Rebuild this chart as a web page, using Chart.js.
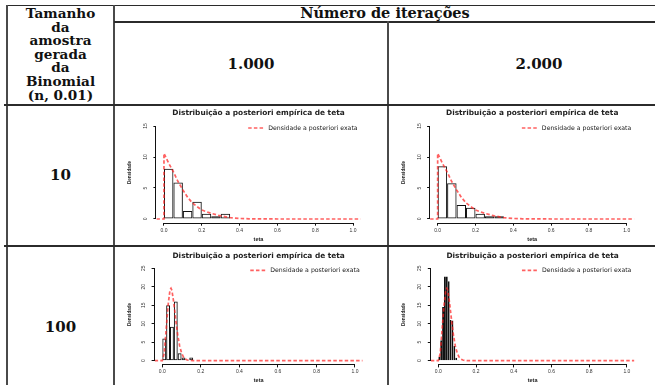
<!DOCTYPE html>
<html><head><meta charset="utf-8">
<script src="https://cdn.jsdelivr.net/npm/chart.js@4/dist/chart.umd.min.js"></script>
<style>
html,body{margin:0;padding:0;width:655px;height:385px;overflow:hidden;background:#fff;}
.l{position:absolute;background:#2b2b2b;}
.v{position:absolute;background:#4a4a4a;}
.t{position:absolute;font-family:"DejaVu Serif",serif;font-weight:bold;font-size:14.5px;color:#111;text-align:center;white-space:nowrap;}
.c{position:absolute;}
</style></head><body>
<!-- table rules -->
<div class="l" style="left:6px;top:5px;width:649px;height:1px"></div>
<div class="v" style="left:6px;top:5px;width:2px;height:380px"></div>
<div class="v" style="left:113px;top:5px;width:2px;height:380px"></div>
<div class="l" style="left:114px;top:21px;width:541px;height:1.5px"></div>
<div class="v" style="left:387px;top:21px;width:2px;height:364px"></div>
<div class="l" style="left:4px;top:104px;width:651px;height:1.5px"></div>
<div class="l" style="left:4px;top:245px;width:651px;height:1.5px"></div>
<!-- table texts -->
<div class="t" style="left:8px;width:105px;top:7px;line-height:13.6px;font-size:13.6px">Tamanho<br>da<br>amostra<br>gerada<br>da<br>Binomial<br>(n, 0.01)</div>
<div class="t" style="left:115px;width:540px;top:5px;line-height:16px">Número de iterações</div>
<div class="t" style="left:115px;width:272px;top:56px;line-height:16px;font-size:15px">1.000</div>
<div class="t" style="left:389px;width:300px;top:56px;line-height:16px;font-size:15px">2.000</div>
<div class="t" style="left:8px;width:105px;top:167px;line-height:16px;font-size:15px">10</div>
<div class="t" style="left:8px;width:105px;top:319px;line-height:16px;font-size:15px">100</div>

<canvas id="c1" class="c" width="270" height="138" style="left:116px;top:106px"></canvas>
<canvas id="c2" class="c" width="270" height="138" style="left:390px;top:106px"></canvas>
<canvas id="c3" class="c" width="270" height="138" style="left:116px;top:247px"></canvas>
<canvas id="c4" class="c" width="270" height="138" style="left:390px;top:247px"></canvas>
<script>
// ---------- data ----------
const chartTitle = 'Distribuição a posteriori empírica de teta';
const legendLabel = 'Densidade a posteriori exata';
const xLabel = 'teta';
const yLabel = 'Densidade';
const xTicks = [0, 0.2, 0.4, 0.6, 0.8, 1.0];
const yTicksTop = [0, 5, 10, 15];
const yTicksBottom = [0, 5, 10, 15, 20, 25];

// histograms (bin mid-points and densities)
const mids10 = [0.025, 0.075, 0.125, 0.175, 0.225, 0.275, 0.325];
const hist10_1000 = [8.1, 5.9, 1.3, 2.8, 0.86, 0.43, 0.86];
const hist10_2000 = [8.5, 5.75, 2.26, 1.83, 0.86, 0.45, 0.43];
const mids100_1000 = [0.01, 0.03, 0.05, 0.07, 0.09, 0.11, 0.13, 0.15];
const hist100_1000 = [6.0, 15.0, 9.2, 16.0, 2.0, 0.9, 0.2, 0.9];
const mids100_2000 = [0.005, 0.015, 0.025, 0.035, 0.045, 0.055, 0.065, 0.075, 0.085, 0.095, 0.105];
const hist100_2000 = [1.0, 5.5, 14.5, 22.8, 22.8, 21.5, 11.0, 10.9, 4.0, 0.8, 0.2];

// exact posterior density curves
const theta10 = [-0.04, 0, 0, 0.025, 0.05, 0.075, 0.1, 0.125, 0.15, 0.175, 0.2, 0.25, 0.3, 0.35, 0.4, 0.45, 0.5, 0.6, 1.04];
const dens10  = [0, 0, 10.6, 9.0, 7.6, 6.0, 4.7, 3.5, 2.6, 2.0, 1.45, 0.9, 0.5, 0.22, 0.08, 0.03, 0.01, 0, 0];
const theta100 = [-0.04, 0, 0.01, 0.02, 0.03, 0.04, 0.045, 0.05, 0.06, 0.07, 0.08, 0.09, 0.1, 0.11, 0.12, 0.13, 0.14, 0.16, 0.2, 1.04];
const dens100  = [0, 0, 2.0, 8.5, 15.0, 19.2, 19.6, 19.0, 15.5, 11.0, 7.0, 4.0, 2.1, 1.0, 0.45, 0.2, 0.08, 0.01, 0, 0];

// ---------- plugins ----------
const rAxes = {
  id: 'rAxes',
  afterDraw(chart) {
    const {ctx, scales: {x, y}, chartArea} = chart;
    const xt = x.ticks, yt = y.ticks;
    ctx.save();
    ctx.strokeStyle = '#111';
    ctx.lineWidth = 1;
    ctx.beginPath();
    const by = Math.round(chartArea.bottom) + 0.5;
    ctx.moveTo(x.getPixelForValue(xt[0].value), by);
    ctx.lineTo(x.getPixelForValue(xt[xt.length - 1].value), by);
    const lx = Math.round(chartArea.left) - 0.5;
    ctx.moveTo(lx, y.getPixelForValue(yt[0].value));
    ctx.lineTo(lx, y.getPixelForValue(yt[yt.length - 1].value));
    ctx.stroke();
    ctx.restore();
  }
};
const rLegend = {
  id: 'rLegend',
  afterDatasetsDraw(chart, args, opts) {
    const ds = chart.data.datasets.find(d => d.type === 'line');
    const {ctx, chartArea} = chart;
    ctx.save();
    ctx.font = opts.font;
    const tw = ctx.measureText(ds.label).width;
    const xr = chartArea.right - opts.inset;
    const yc = chartArea.top + opts.dy;
    ctx.fillStyle = '#222';
    ctx.textBaseline = 'middle';
    ctx.textAlign = 'left';
    ctx.fillText(ds.label, xr - tw, yc);
    ctx.strokeStyle = ds.borderColor;
    ctx.lineWidth = ds.borderWidth;
    ctx.setLineDash(ds.borderDash);
    ctx.beginPath();
    ctx.moveTo(xr - tw - opts.gap - opts.len, yc);
    ctx.lineTo(xr - tw - opts.gap, yc);
    ctx.stroke();
    ctx.restore();
  }
};

// ---------- factory ----------
function makeChart(id, mids, hist, theta, dens, yMax, yTicks, d) {
  const el = document.getElementById(id);
  const W = el.width, H = el.height;
  const titleSize = 7.4, titleLH = titleSize * 1.2;
  const yW = d.axL - d.left;
  const padR = d.left + W - d.axR;
  const xH = d.top + H - d.axB;
  const tTop = d.tTop;
  const tBot = (d.axT - d.top) - tTop - titleLH;
  return new Chart(el, {
    data: {
      datasets: [
        {
          type: 'line', label: legendLabel, order: 0,
          data: theta.map((t, i) => ({x: t, y: dens[i]})),
          borderColor: 'rgba(255,30,30,0.7)', borderWidth: 1.7, borderDash: [3.5, 2.2],
          pointRadius: 0, tension: 0, fill: false
        },
        {
          type: 'bar', label: 'hist', order: 1,
          data: mids.map((m, i) => ({x: m, y: hist[i]})),
          backgroundColor: 'rgba(255,255,255,0)', borderColor: '#111', borderWidth: 1,
          inflateAmount: 0,
          borderSkipped: false, barPercentage: 1, categoryPercentage: 1, grouped: false
        }
      ]
    },
    options: {
      responsive: false, animation: false, devicePixelRatio: 1,
      layout: {padding: {left: 0, right: padR, top: 0, bottom: 0}},
      plugins: {
        legend: {display: false}, tooltip: {enabled: false},
        title: {display: true, text: chartTitle, fullSize: false, color: '#222',
                font: {family: 'DejaVu Sans', size: titleSize, weight: 'bold', lineHeight: 1.2},
                padding: {top: tTop, bottom: tBot}},
        rLegend: {font: '6.2px "DejaVu Sans"', inset: 3, dy: 5.7, gap: 4.5, len: 15.5}
      },
      scales: {
        x: {
          type: 'linear', min: -0.04, max: 1.04, offset: false,
          afterBuildTicks: s => { s.ticks = xTicks.map(v => ({value: v})); },
          afterFit: s => { s.height = xH; },
          grid: {display: true, drawOnChartArea: false, drawTicks: true, tickLength: 3, color: '#111', offset: false},
          border: {display: false},
          ticks: {font: {family: 'Liberation Sans', size: 5}, color: '#333', padding: 1.5,
                  maxRotation: 0, autoSkip: false, callback: v => v.toFixed(1)},
          title: {display: true, text: xLabel, color: '#222',
                  font: {family: 'Liberation Sans', size: 5.5, weight: 'bold'}, padding: {top: 0, bottom: d.xtPad}}
        },
        y: {
          type: 'linear', min: -0.04 * yMax, max: 1.04 * yMax,
          afterBuildTicks: s => { s.ticks = yTicks.map(v => ({value: v})); },
          afterFit: s => { s.width = yW; },
          grid: {display: true, drawOnChartArea: false, drawTicks: true, tickLength: 3, color: '#111'},
          border: {display: false},
          ticks: {font: {family: 'Liberation Sans', size: 5}, color: '#333', padding: 5,
                  minRotation: 90, maxRotation: 90, crossAlign: 'center', autoSkip: false,
                  callback: v => String(v)},
          title: {display: true, text: yLabel, color: '#222',
                  font: {family: 'Liberation Sans', size: 4.6, weight: 'bold'}, padding: {top: 10.5, bottom: 0}}
        }
      }
    },
    plugins: [rAxes, rLegend]
  });
}

makeChart('c1', mids10, hist10_1000, theta10, dens10, 15, yTicksTop,
  {left: 116, top: 106, axL: 156.4, axR: 360.6, axT: 122.3, axB: 222.7, tTop: 3, xtPad: 1.7});
makeChart('c2', mids10, hist10_2000, theta10, dens10, 15, yTicksTop,
  {left: 390, top: 106, axL: 430.1, axR: 634.3, axT: 122.3, axB: 222.7, tTop: 3, xtPad: 1.7});
makeChart('c3', mids100_1000, hist100_1000, theta100, dens100, 25, yTicksBottom,
  {left: 116, top: 247, axL: 154.6, axR: 362.7, axT: 264.6, axB: 364.4, tTop: 4.5, xtPad: 1});
makeChart('c4', mids100_2000, hist100_2000, theta100, dens100, 25, yTicksBottom,
  {left: 390, top: 247, axL: 430.8, axR: 634.4, axT: 264.6, axB: 364.4, tTop: 4.5, xtPad: 1});
</script>
</body></html>
